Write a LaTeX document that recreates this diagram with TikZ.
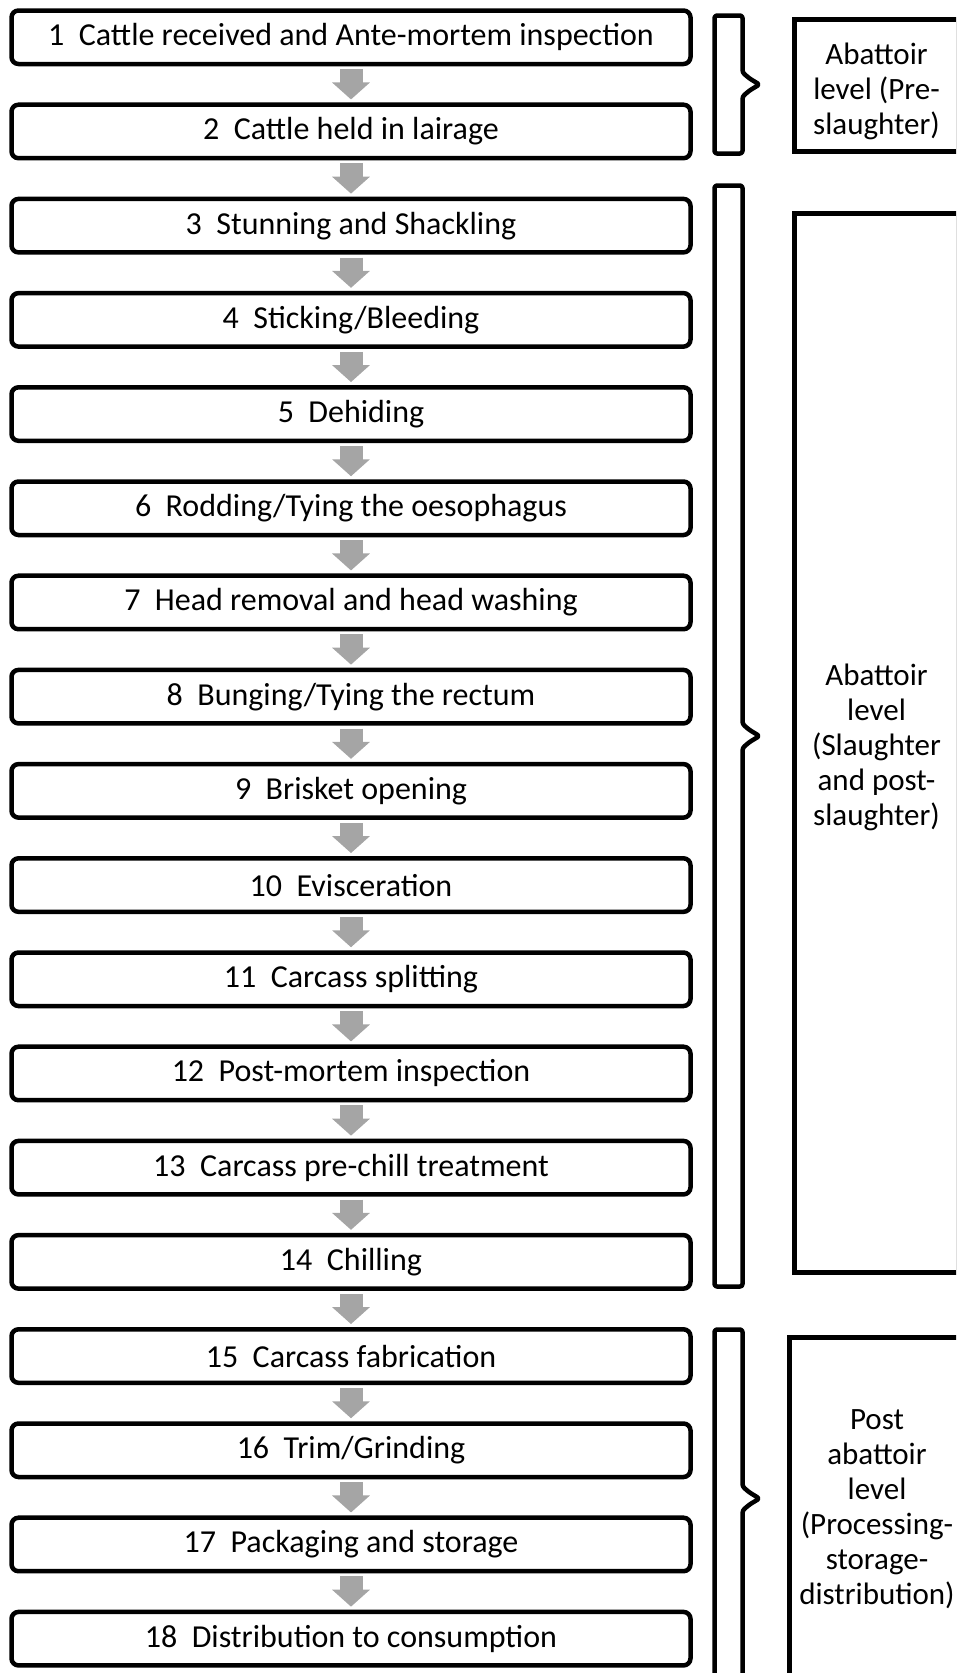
\documentclass[tikz,border=0pt]{standalone}
\usepackage{fontspec}
\setmainfont{Carlito}
\usetikzlibrary{arrows.meta}
\definecolor{arrowgray}{HTML}{A5A5A5}
\begin{document}
\begin{tikzpicture}[x=1pt,y=-1pt,
  stepbox/.style={draw, line width=4.5pt, rounded corners=7pt, minimum width=679pt,
    minimum height=53.5pt, inner sep=0pt, font=\fontsize{32}{36}\selectfont},
  flow/.style={draw=arrowgray, line width=23pt, -{Triangle[length=17pt,width=37pt]},
    shorten <=3pt, shorten >=3pt},
  brk/.style={draw, line width=4.5pt, rounded corners=2.5pt, line join=round},
  levelbox/.style={draw, line width=4.5pt, inner sep=0pt},
  leveltext/.style={inner sep=0pt, align=center, font=\fontsize{31}{35}\selectfont}]
\useasboundingbox (0,0) rectangle (956,1673);
\clip (0,0) rectangle (956,1673);
% flow boxes
\node[stepbox] (b1)  at (351,37.25)   {1~~Cattle received and Ante-mortem inspection};
\node[stepbox] (b2)  at (351,131.45)  {2~~Cattle held in lairage};
\node[stepbox] (b3)  at (351,225.65)  {3~~Stunning and Shackling};
\node[stepbox] (b4)  at (351,319.85)  {4~~Sticking/Bleeding};
\node[stepbox] (b5)  at (351,414.05)  {5~~Dehiding};
\node[stepbox] (b6)  at (351,508.25)  {6~~Rodding/Tying the oesophagus};
\node[stepbox] (b7)  at (351,602.45)  {7~~Head removal and head washing};
\node[stepbox] (b8)  at (351,696.65)  {8~~Bunging/Tying the rectum};
\node[stepbox] (b9)  at (351,790.85)  {9~~Brisket opening};
\node[stepbox] (b10) at (351,885.05)  {10~~Evisceration};
\node[stepbox] (b11) at (351,979.25)  {11~~Carcass splitting};
\node[stepbox] (b12) at (351,1073.45) {12~~Post-mortem inspection};
\node[stepbox] (b13) at (351,1167.65) {13~~Carcass pre-chill treatment};
\node[stepbox] (b14) at (351,1261.85) {14~~Chilling};
\node[stepbox] (b15) at (351,1356.05) {15~~Carcass fabrication};
\node[stepbox] (b16) at (351,1450.25) {16~~Trim/Grinding};
\node[stepbox] (b17) at (351,1544.45) {17~~Packaging and storage};
\node[stepbox] (b18) at (351,1638.65) {18~~Distribution to consumption};
% grey arrows
\foreach \a/\b in {b1/b2,b2/b3,b3/b4,b4/b5,b5/b6,b6/b7,b7/b8,b8/b9,b9/b10,b10/b11,
  b11/b12,b12/b13,b13/b14,b14/b15,b15/b16,b16/b17,b17/b18}
  \draw[flow] (\a) -- (\b);
% brackets
\draw[brk] (742.5,15.5) -- (714.5,15.5) -- (714.5,153.5) -- (742.5,153.5)
  -- (742.5,96.5) -- (749.5,90.5) -- (759.5,84.5) -- (749.5,78.5) -- (742.5,72.5) -- cycle;
\draw[brk] (742.5,185.5) -- (714.5,185.5) -- (714.5,1286.5) -- (742.5,1286.5)
  -- (742.5,748) -- (749.5,742) -- (759.5,736) -- (749.5,730) -- (742.5,724) -- cycle;
\draw[brk] (742.5,1329.5) -- (714.5,1329.5) -- (714.5,1690) -- (742.5,1690)
  -- (742.5,1510.5) -- (749.5,1504.5) -- (759.5,1498.5) -- (749.5,1492.5) -- (742.5,1486.5) -- cycle;
% level boxes
\node[levelbox, minimum width=164pt, minimum height=132pt] (lA) at (876.5,85.5) {};
\node[levelbox, minimum width=164pt, minimum height=1059pt] (lB) at (876.5,743) {};
\node[levelbox, minimum width=175pt, minimum height=343pt] (lC) at (877,1509) {};
\node[leveltext] (tA) at ([yshift=-6pt]lA.center) {Abattoir\\level (Pre-\\slaughter)};
\node[leveltext] (tB) at ([yshift=-4pt]lB.center) {Abattoir\\level\\(Slaughter\\and post-\\slaughter)};
\node[leveltext] (tC) at (lC.center) {Post\\abattoir\\level\\(Processing-\\storage-\\distribution)};
\end{tikzpicture}
\end{document}
